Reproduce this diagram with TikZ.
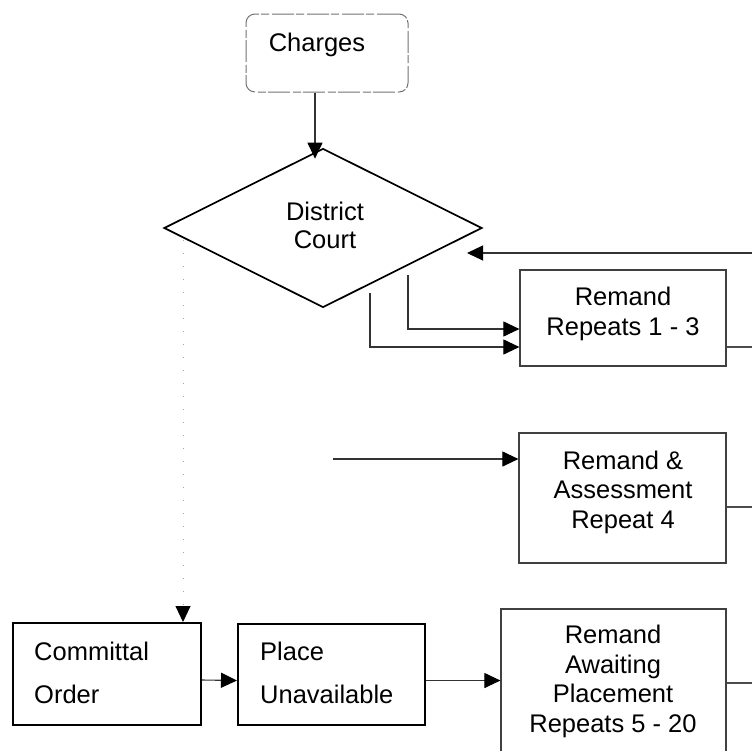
\documentclass[tikz,border=0pt]{standalone}
\usepackage{fontspec}
\setmainfont{Liberation Sans}
\usetikzlibrary{arrows.meta,shapes.geometric}
\begin{document}
\begin{tikzpicture}[x=1pt,y=-1pt,
  lbl/.style={font=\fontsize{25.5}{29.5}\selectfont, inner sep=0pt, anchor=base, align=center},
  lbll/.style={font=\fontsize{25.5}{43}\selectfont, inner sep=0pt, anchor=base west, align=left},
  stagebox/.style={draw=black!75, line width=1.2pt, inner sep=0pt},
  orderbox/.style={draw=black, line width=2pt, inner sep=0pt},
  flow/.style={draw=black!80, line width=1.1pt, -{Triangle[length=16pt,width=15pt,color=black]}},
  plain/.style={draw=black!70, line width=1.1pt},
]
\useasboundingbox (0,0) rectangle (752,750);
\clip (0,0) rectangle (752,750);
\fill[white] (0,0) rectangle (752,750);

% start of the process
\node[draw=black!55, line width=1pt, dash pattern=on 22pt off 3pt on 8pt off 2pt,
      rounded corners=9pt, minimum width=162pt, minimum height=78pt, inner sep=0pt] (ch) at (327,53) {};
\node[lbl] (chT) at (317,51) {Charges};

% court decision
\node[diamond, draw, line width=1.7pt, minimum width=318pt, minimum height=159pt, inner sep=0pt] (dc) at (323,228) {};
\node[lbl, font=\fontsize{25.5}{28}\selectfont] (dcT) at (325,248) {District\\Court};

% remand stages
\node[stagebox, minimum width=206pt, minimum height=96pt] (rem1) at (623,318) {};
\node[lbl] (rem1T) at (623,335) {Remand\\Repeats 1 - 3};

\node[stagebox, minimum width=207pt, minimum height=130pt] (ra) at (622.5,498) {};
\node[lbl] (raT) at (623,528) {Remand \&\\Assessment\\Repeat 4};

\node[stagebox, minimum width=225pt, minimum height=161pt] (rap) at (613.5,689.5) {};
\node[lbl] (rapT) at (613,732) {Remand\\Awaiting\\Placement\\Repeats 5 - 20};

% committal path
\node[orderbox, minimum width=188pt, minimum height=102pt] (com) at (107,674) {};
\node[lbll] (comT) at (34,703) {Committal\\Order};

\node[orderbox, minimum width=187pt, minimum height=101pt] (pu) at (331.5,674.5) {};
\node[lbll] (puT) at (260,703) {Place\\Unavailable};

% connectors
\draw[flow] ([xshift=-12pt]ch.south) -- ([xshift=-8pt,yshift=-11pt]dc.north);

\coordinate (fbIn) at (752,253);
\coordinate (fbTip) at (467,253);
\draw[flow] (fbIn) -- (fbTip);

\coordinate (dcA) at (408,275);
\coordinate (dcB) at (370,293);
\draw[flow] (dcA) |- ([yshift=-11pt]rem1.west);
\draw[flow] (dcB) |- ([yshift=-29pt]rem1.west);
\coordinate (rem1Out) at (752,347);
\draw[plain] (rem1.east |- rem1Out) -- (rem1Out);

\coordinate (raIn) at (333,459);
\draw[flow] (raIn) -- (ra.west |- raIn);
\coordinate (raOut) at (752,507);
\draw[plain] (ra.east |- raOut) -- (raOut);

\coordinate (dotTop) at (183,240);
\draw[draw=black!35, line width=0.9pt, dash pattern=on 1pt off 12pt,
      -{Triangle[length=16pt,width=15pt,color=black]}] (dotTop) -- (dotTop |- com.north);

\draw[flow] ([yshift=-6pt]com.east) -- ([yshift=-6pt]pu.west);
\draw[flow] ([yshift=-6pt]pu.east) coordinate (puOut) -- (rap.west |- puOut);
\coordinate (rapOut) at (752,683);
\draw[plain] (rap.east |- rapOut) -- (rapOut);
\end{tikzpicture}
\end{document}
